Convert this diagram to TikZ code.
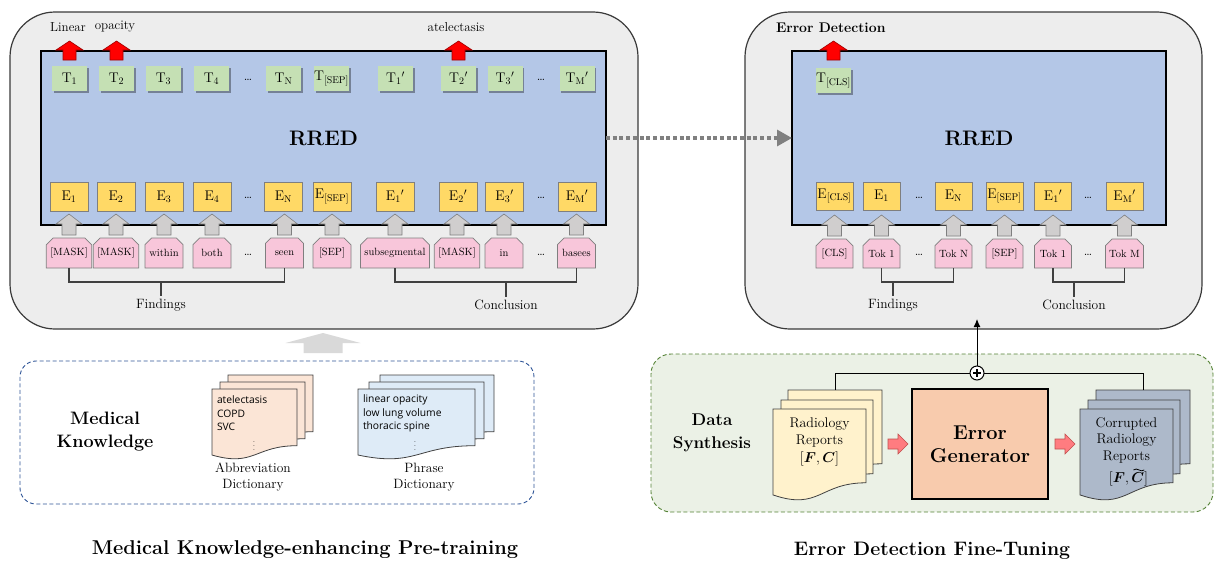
\documentclass[tikz,border=0pt]{standalone}
\usepackage{fontspec}
\usepackage{bm}
\newfontfamily\dictfont{Open Sans}
\usetikzlibrary{shapes.misc,shadows,arrows.meta,calc}
\definecolor{panelgray}{HTML}{EDEDED}
\definecolor{panelline}{HTML}{3A3A3A}
\definecolor{modelblue}{HTML}{B4C7E7}
\definecolor{tgreen}{HTML}{C5E0B4}
\definecolor{egold}{HTML}{FFD966}
\definecolor{tokpink}{HTML}{F8C6DA}
\definecolor{tokline}{HTML}{7F7F7F}
\definecolor{arrgray}{HTML}{D0CECE}
\definecolor{darkred}{HTML}{A00000}
\definecolor{dashblue}{HTML}{2F5597}
\definecolor{orpage}{HTML}{FBE5D6}
\definecolor{blpage}{HTML}{DEEBF7}
\definecolor{synfill}{HTML}{EBF1E6}
\definecolor{synline}{HTML}{548235}
\definecolor{yepage}{HTML}{FFF2CC}
\definecolor{copage}{HTML}{ADB9CA}
\definecolor{genfill}{HTML}{F8CBAD}
\definecolor{pinkarr}{HTML}{FF7C80}
\definecolor{pinkarrline}{HTML}{C0504D}
\definecolor{bigarrgray}{HTML}{D9D9D9}
\definecolor{dotgray}{HTML}{808080}
\definecolor{lineg}{HTML}{404040}
\newcommand\docpage[5]{%
  \path[#5] (#1,#2) -- (#3,#2) -- (#3,#2+0.802*#4)
    .. controls ({(#1+#3)/2},#2+0.802*#4) and ({(#1+#3)/2},#2+1.107*#4) .. (#1,#2+0.934*#4) -- cycle;}
\tikzset{
  garr/.pic={\path[fill=arrgray,draw=tokline,line width=0.6pt] (-7,0) -- (-7,-11) -- (-13,-11) -- (0,-21) -- (13,-11) -- (7,-11) -- (7,0) -- cycle;},
  rarr/.pic={\path[fill=red,draw=darkred,line width=0.6pt] (-6.5,0) -- (-6.5,-10) -- (-13.5,-10) -- (0,-19) -- (13.5,-10) -- (6.5,-10) -- (6.5,0) -- cycle;},
  bigarr/.pic={\path[fill=bigarrgray] (-19.5,0) -- (-19.5,-10) -- (-37.5,-10) -- (0,-20) -- (37.5,-10) -- (19.5,-10) -- (19.5,0) -- cycle;},
  parr/.pic={\path[fill=pinkarr,draw=pinkarrline,line width=0.6pt] (0,-5) -- (10,-5) -- (10,-10) -- (20,0) -- (10,10) -- (10,5) -- (0,5) -- cycle;}
}
\begin{document}
\begin{tikzpicture}[x=1pt,y=-1pt,
  every node/.style={inner sep=0pt,outer sep=0pt},
  panel/.style={draw=panelline,line width=1.2pt,fill=panelgray,rounded corners=45pt},
  model/.style={draw=black,line width=1.6pt,fill=modelblue,font=\fontsize{21}{24}\selectfont\bfseries},
  tbox/.style={fill=tgreen,minimum width=35pt,minimum height=25pt,drop shadow={shadow xshift=1.6pt,shadow yshift=-1.6pt,fill=black,opacity=0.35},font=\fontsize{14}{16}\selectfont},
  ebox/.style={draw=tokline,line width=0.7pt,fill=egold,minimum width=38pt,minimum height=29pt,font=\fontsize{14}{16}\selectfont},
  tokbox/.style={chamfered rectangle,chamfered rectangle corners={north west,north east},chamfered rectangle xsep=4pt,draw=tokline,line width=0.7pt,fill=tokpink,minimum width=38pt,minimum height=30pt,font=\fontsize{10.5}{12}\selectfont},
  dotsl/.style={font=\fontsize{13}{15}\selectfont},
  lbl/.style={font=\fontsize{13.5}{16}\selectfont},
  brk/.style={draw=lineg,line width=1.1pt},
  doctext/.style={font=\fontsize{14}{17.5}\selectfont,align=center},
]
\useasboundingbox (0,0) rectangle (1215,562);
% panels
\node[panel,minimum width=628pt,minimum height=317pt] (lpanel) at (324,170.5) {};
\node[panel,minimum width=457pt,minimum height=317pt] (rpanel) at (973.5,170.5) {};
\node[model,minimum width=565pt,minimum height=174pt] (lmodel) at (323.5,138) {RRED};
\node[model,minimum width=374pt,minimum height=174pt] (rmodel) at (979,138) {RRED};
\draw[dotgray,line width=3.3pt,dash pattern=on 4pt off 2.7pt,-{Triangle[length=15pt,width=16pt]}] (lmodel.east) -- (rmodel.west);
% left T row
\node[tbox] (T1) at (69.5,78.5) {$\mathrm{T}_1$};
\node[tbox] (T2) at (116.5,78.5) {$\mathrm{T}_2$};
\node[tbox] (T3) at (163.5,78.5) {$\mathrm{T}_3$};
\node[tbox] (T4) at (211.5,78.5) {$\mathrm{T}_4$};
\node[dotsl] (td1) at (248,80) {\dots};
\node[tbox] (TN) at (283.5,78.5) {$\mathrm{T}_{\mathrm{N}}$};
\node[tbox] (Tsep) at (331.5,78.5) {$\mathrm{T}_{\mathrm{[SEP]}}$};
\node[tbox] (Tp1) at (395.5,78.5) {$\mathrm{T}_1{}'$};
\node[tbox] (Tp2) at (458.5,78.5) {$\mathrm{T}_2{}'$};
\node[tbox] (Tp3) at (505,78.5) {$\mathrm{T}_3{}'$};
\node[dotsl] (td2) at (541,80) {\dots};
\node[tbox] (TpM) at (577,78.5) {$\mathrm{T}_{\mathrm{M}}{}'$};
\pic at (T1.north |- 0,60) {rarr};
\pic at (T2.north |- 0,60) {rarr};
\pic at (Tp2.north |- 0,60) {rarr};
\node[font=\fontsize{13}{15}\selectfont] (lin) at (68,27) {Linear};
\node[font=\fontsize{13}{15}\selectfont] (opa) at (115,27) {opacity};
\node[font=\fontsize{13}{15}\selectfont] (ate) at (456,27) {atelectasis};
% left E row
\node[ebox] (E1) at (69,196.5) {$\mathrm{E}_1$};
\node[ebox] (E2) at (116,196.5) {$\mathrm{E}_2$};
\node[ebox] (E3) at (164,196.5) {$\mathrm{E}_3$};
\node[ebox] (E4) at (212,196.5) {$\mathrm{E}_4$};
\node[dotsl] (ed1) at (248,198) {\dots};
\node[ebox] (EN) at (283.5,196.5) {$\mathrm{E}_{\mathrm{N}}$};
\node[ebox] (Esep) at (332,196.5) {$\mathrm{E}_{\mathrm{[SEP]}}$};
\node[ebox] (Ep1) at (395,196.5) {$\mathrm{E}_1{}'$};
\node[ebox] (Ep2) at (458,196.5) {$\mathrm{E}_2{}'$};
\node[ebox] (Ep3) at (504.5,196.5) {$\mathrm{E}_3{}'$};
\node[dotsl] (ed2) at (541,198) {\dots};
\node[ebox] (EpM) at (577,196.5) {$\mathrm{E}_{\mathrm{M}}{}'$};
% left tokens
\node[tokbox] (k1) at (69,253) {[MASK]};
\node[tokbox] (k2) at (116,253) {[MASK]};
\node[tokbox] (k3) at (164,253) {within};
\node[tokbox] (k4) at (212,253) {both};
\node[dotsl] (kd1) at (248,255) {\dots};
\node[tokbox] (kN) at (284.5,253) {seen};
\node[tokbox] (ksep) at (332,253) {[SEP]};
\node[tokbox,minimum width=66pt] (kp1) at (395,253) {subsegmental};
\node[tokbox] (kp2) at (457,253) {[MASK]};
\node[tokbox] (kp3) at (504,253) {in};
\node[dotsl] (kd2) at (541,255) {\dots};
\node[tokbox] (kpM) at (576.5,253) {basees};
\foreach \k in {k1,k2,k3,k4,kN,ksep,kp1,kp2,kp3,kpM} {\pic at ($(\k.north)+(0,-3)$) {garr};}
% left brackets
\node[lbl] (findL) at (161,305) {Findings};
\node[lbl] (concL) at (506,305) {Conclusion};
\draw[brk] (k1.south) -- (k1.south |- 0,282) -| (kN.south);
\draw[brk] (findL.north |- 0,282) -- ($(findL.north)+(0,-3)$);
\draw[brk] (kp1.south) -- (kp1.south |- 0,282) -| (kpM.south);
\draw[brk] (concL.north |- 0,282) -- ($(concL.north)+(0,-3)$);
% right panel
\node[font=\fontsize{14}{16}\selectfont\bfseries,anchor=west] (edlbl) at (776,28) {Error Detection};
\node[tbox] (Tcls) at (833.5,80.5) {$\mathrm{T}_{\mathrm{[CLS]}}$};
\pic at (Tcls.north |- 0,60) {rarr};
\node[ebox,minimum width=37pt,minimum height=28pt] (Rcls) at (834.5,196) {$\mathrm{E}_{\mathrm{[CLS]}}$};
\node[ebox,minimum width=37pt,minimum height=28pt] (R1) at (881.5,196) {$\mathrm{E}_1$};
\node[dotsl] (rd1) at (919,198) {\dots};
\node[ebox,minimum width=37pt,minimum height=28pt] (RN) at (953.5,196) {$\mathrm{E}_{\mathrm{N}}$};
\node[ebox,minimum width=37pt,minimum height=28pt] (Rsep) at (1004.5,196) {$\mathrm{E}_{\mathrm{[SEP]}}$};
\node[ebox,minimum width=37pt,minimum height=28pt] (Rp1) at (1053,196) {$\mathrm{E}_1{}'$};
\node[dotsl] (rd2) at (1088,198) {\dots};
\node[ebox,minimum width=37pt,minimum height=28pt] (RpM) at (1124.5,196) {$\mathrm{E}_{\mathrm{M}}{}'$};
\node[tokbox,minimum width=37pt,minimum height=29pt] (q0) at (834.5,253.5) {[CLS]};
\node[tokbox,minimum width=37pt,minimum height=29pt] (q1) at (881.5,253.5) {Tok 1};
\node[dotsl] (qd1) at (919,255) {\dots};
\node[tokbox,minimum width=37pt,minimum height=29pt] (qN) at (953.5,253.5) {Tok N};
\node[tokbox,minimum width=37pt,minimum height=29pt] (qsep) at (1004.5,253.5) {[SEP]};
\node[tokbox,minimum width=37pt,minimum height=29pt] (qp1) at (1053,253.5) {Tok 1};
\node[dotsl] (qd2) at (1088,255) {\dots};
\node[tokbox,minimum width=37pt,minimum height=29pt] (qpM) at (1124.5,253.5) {Tok M};
\foreach \k in {q0,q1,qN,qsep,qp1,qpM} {\pic at ($(\k.north)+(0,-3)$) {garr};}
\node[lbl] (findR) at (893,305) {Findings};
\node[lbl] (concR) at (1074,305) {Conclusion};
\draw[brk] (q1.south) -- (q1.south |- 0,282) -| (qN.south);
\draw[brk] (findR.north |- 0,282) -- ($(findR.north)+(0,-3)$);
\draw[brk] (qp1.south) -- (qp1.south |- 0,282) -| (qpM.south);
\draw[brk] (concR.north |- 0,282) -- ($(concR.north)+(0,-3)$);
% knowledge box
\node[draw=dashblue,dash pattern=on 4pt off 2.5pt,line width=0.9pt,rounded corners=16pt,minimum width=514pt,minimum height=143pt] (kbox) at (277,432.5) {};
\pic at ($(lpanel.south)+(-1,24)$) {bigarr};
\node[font=\fontsize{18}{23}\selectfont\bfseries,align=center] (mk) at (105,431.5) {Medical\\Knowledge};
\docpage{228}{375}{313}{70.7}{fill=orpage,draw=lineg,line width=0.8pt}
\docpage{220}{382}{305}{70.7}{fill=orpage,draw=lineg,line width=0.8pt}
\docpage{212}{389}{297}{70.7}{fill=orpage,draw=lineg,line width=0.8pt}
\node[anchor=west,align=left,font=\dictfont\fontsize{10.3}{13.5}\selectfont] (abbtxt) at (217,413.5) {atelectasis\\COPD\\SVC};
\node[font=\fontsize{8}{9}\selectfont] (abbdots) at (254,443) {$\vdots$};
\node[align=center,font=\fontsize{13.5}{16}\selectfont] (abblbl) at (253,477) {Abbreviation\\Dictionary};
\docpage{380}{375}{494}{70.7}{fill=blpage,draw=lineg,line width=0.8pt}
\docpage{369}{382}{484}{70.7}{fill=blpage,draw=lineg,line width=0.8pt}
\docpage{358}{389}{475}{70.7}{fill=blpage,draw=lineg,line width=0.8pt}
\node[anchor=west,align=left,font=\dictfont\fontsize{10.3}{13.5}\selectfont] (phtxt) at (363,413.5) {linear opacity\\low lung volume\\thoracic spine};
\node[font=\fontsize{8}{9}\selectfont] (phdots) at (415,443) {$\vdots$};
\node[align=center,font=\fontsize{13.5}{16}\selectfont] (phlbl) at (424,477) {Phrase\\Dictionary};
% synthesis box
\node[draw=synline,dash pattern=on 4pt off 2.5pt,fill=synfill,line width=0.9pt,rounded corners=20pt,minimum width=562pt,minimum height=158pt] (synbox) at (932,433) {};
\node[font=\fontsize{17}{23}\selectfont\bfseries,align=center] (ds) at (712,432.5) {Data\\Synthesis};
\docpage{788}{390}{882}{92}{fill=yepage,draw=lineg,line width=0.8pt}
\docpage{781}{400}{873}{92}{fill=yepage,draw=lineg,line width=0.8pt}
\docpage{773}{409}{866}{92}{fill=yepage,draw=lineg,line width=0.8pt}
\node[doctext] (radtxt) at (819.5,441.5) {Radiology\\Reports\\$[\bm{F},\bm{C}]$};
\node[draw=black,line width=1.6pt,fill=genfill,minimum width=136pt,minimum height=110pt,font=\fontsize{20}{23}\selectfont\bfseries,align=center] (gen) at (980,444) {Error\\Generator};
\pic at ($(gen.west)+(-24,0)$) {parr};
\pic at ($(gen.east)+(7,0)$) {parr};
\docpage{1096}{390}{1190}{92}{fill=copage,draw=lineg,line width=0.8pt}
\docpage{1088}{400}{1180}{92}{fill=copage,draw=lineg,line width=0.8pt}
\docpage{1080}{409}{1173}{92}{fill=copage,draw=lineg,line width=0.8pt}
\node[doctext,font=\fontsize{14}{16.5}\selectfont] (cortxt) at (1126.5,440) {Corrupted\\Radiology\\Reports};
\node[font=\fontsize{14}{16}\selectfont,anchor=base east] (cfpart) at (1129,482) {$[\bm{F},$};
\node[font=\fontsize{14}{16}\selectfont,anchor=base west] (cC) at ($(cfpart.base east)+(2.3,0)$) {$\bm{C}$};
\node[font=\fontsize{14}{16}\selectfont,anchor=base west] (cbr) at (cC.base east) {$]$};
\coordinate (tla) at ($(cC.north west)+(2.2,-2.2)$);
\coordinate (tlb) at ($(cC.north east)+(0.2,-2.2)$);
\draw[line width=0.8pt] (tla) .. controls ($(tla)!0.35!(tlb)+(0,-3.2)$) and ($(tla)!0.65!(tlb)+(0,3.2)$) .. (tlb);
\coordinate (radtop) at (835,390);
\coordinate (cortop) at (1143,390);
\node[circle,draw=black,fill=white,line width=1pt,minimum size=14pt] (plus) at (977,373) {};
\draw[line width=1.2pt] ($(plus.north)+(0,3)$) -- ($(plus.south)+(0,-3)$);
\draw[line width=1.2pt] ($(plus.west)+(3,0)$) -- ($(plus.east)+(-3,0)$);
\draw[line width=1pt] (radtop) |- (plus.west);
\draw[line width=1pt] (cortop) |- (plus.east);
\coordinate (edin) at (977,319);
\draw[line width=1pt,-{Latex[length=8pt,width=7pt]}] (plus.north) -- (edin);
% titles
\node[font=\fontsize{20}{23}\selectfont\bfseries] (title1) at (305,550) {Medical Knowledge-enhancing Pre-training};
\node[font=\fontsize{19.5}{23}\selectfont\bfseries] (title2) at (932,551) {Error Detection Fine-Tuning};
\end{tikzpicture}
\end{document}
